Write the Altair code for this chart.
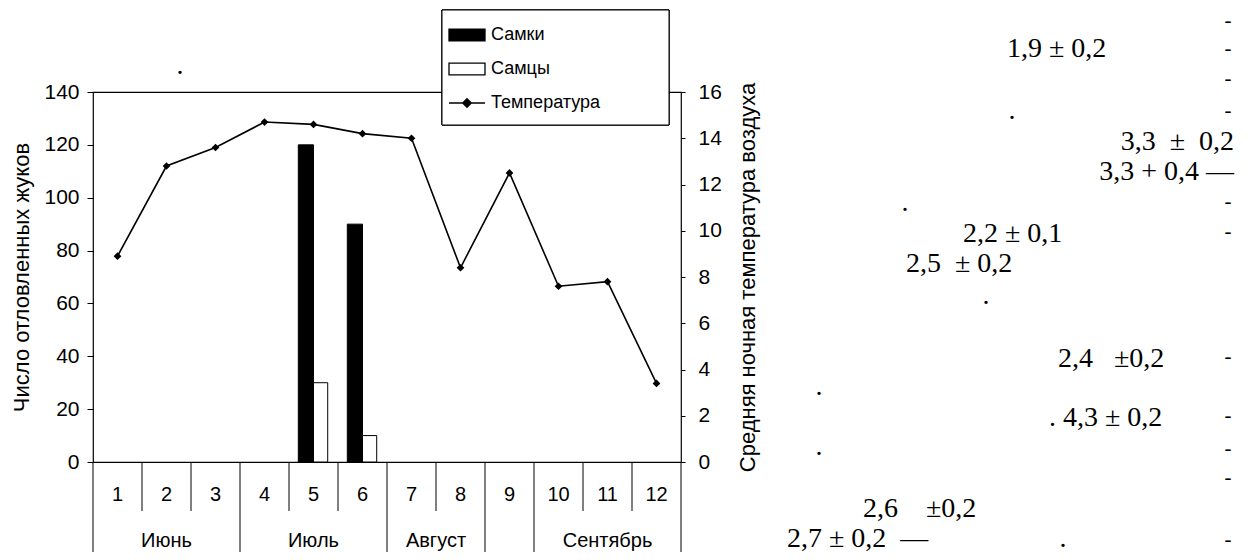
import altair as alt
import pandas as pd

# ---------------- data ----------------
PERIODS = list(range(1, 13))
FEMALES = [0, 0, 0, 0, 120, 90, 0, 0, 0, 0, 0, 0]
MALES = [0, 0, 0, 0, 30, 10, 0, 0, 0, 0, 0, 0]
TEMPERATURE = [8.9, 12.8, 13.6, 14.7, 14.6, 14.2, 14.0, 8.4, 12.5, 7.6, 7.8, 3.4]
SERIES = ["Самки", "Самцы", "Температура"]
MONTHS = ["Июнь", "Июль", "Август", "Сентябрь"]
MONTH_FIRST = [1, 4, 7, 10]
MONTH_LAST = [3, 6, 8, 12]
COUNT_TICKS = [0, 20, 40, 60, 80, 100, 120, 140]
TEMP_TICKS = [0, 2, 4, 6, 8, 10, 12, 14, 16]
LEFT_TITLE = "Число отловленных жуков"
RIGHT_TITLE = "Средняя ночная температура воздуха"

# text fragments of the scanned page to the right of the chart
NOTES_LEFT = ["1,9 ± 0,2", "2,2 ± 0,1", "2,5\u00a0 ± 0,2", "2,4\u00a0\u00a0 ±0,2",
              ". 4,3 ± 0,2", "2,6\u00a0\u00a0\u00a0 ±0,2", "2,7 ± 0,2\u00a0 —"]
NOTES_RIGHT = ["3,3\u00a0 ±\u00a0 0,2", "3,3 + 0,4 —"]

# ---------------- layout (page pixels) ----------------
PLOT_LEFT, PLOT_TOP, PLOT_W, PLOT_H = 93, 92, 588, 370
LEGEND_BOX = (442, 10, 669, 125)  # left, top, right, bottom
NOTES_LEFT_POS = [(1007, 57), (963, 242), (906, 272), (1058, 367), (1049, 426), (863, 517), (787, 547)]
NOTES_RIGHT_POS = [(1234, 150), (1234, 180)]
DASH_X = 1228
DASH_Y = [22, 50, 80, 112, 203, 233, 358, 417, 450, 479, 541]
DOTS_POS = [(1012, 117), (905, 209), (986, 302), (819, 393), (819, 453), (1063, 545), (180, 72)]

SANS = "Liberation Sans"
SERIF = "Liberation Serif"
NOTE_SIZE = 28
DASH_SIZE = 21

# ---------------- tables ----------------
bar_rows = []
for p, f, m in zip(PERIODS, FEMALES, MALES):
    if f:
        bar_rows.append({"period": p, "series": SERIES[0], "count": f})
    if m:
        bar_rows.append({"period": p, "series": SERIES[1], "count": m})
bar_df = pd.DataFrame(bar_rows)
temp_df = pd.DataFrame({"period": PERIODS, "temp": TEMPERATURE})
period_df = pd.DataFrame({"period": PERIODS})
legend_df = pd.DataFrame({"series": SERIES})

edges = [p - 0.5 for p in PERIODS] + [PERIODS[-1] + 0.5]
group_edges = sorted({a - 0.5 for a in MONTH_FIRST} | {b + 0.5 for b in MONTH_LAST})
short_df = pd.DataFrame({"edge": [e for e in edges if e not in group_edges]})
long_df = pd.DataFrame({"edge": group_edges})
month_df = pd.DataFrame({"month": MONTHS,
                         "center": [(a + b) / 2 for a, b in zip(MONTH_FIRST, MONTH_LAST)]})


def notes_frame(texts, xs, ys):
    return pd.DataFrame({"note": texts,
                         "px": [x - PLOT_LEFT for x in xs],
                         "py": [y - PLOT_TOP for y in ys]})


notes_l = notes_frame(NOTES_LEFT, [p[0] for p in NOTES_LEFT_POS], [p[1] for p in NOTES_LEFT_POS])
notes_r = notes_frame(NOTES_RIGHT, [p[0] for p in NOTES_RIGHT_POS], [p[1] for p in NOTES_RIGHT_POS])
dash_df = notes_frame(["-"] * len(DASH_Y), [DASH_X] * len(DASH_Y), [y + 5 for y in DASH_Y])
dot_df = notes_frame(["."] * len(DOTS_POS), [p[0] for p in DOTS_POS], [p[1] + 2 for p in DOTS_POS])

# ---------------- scales ----------------
x_scale = alt.Scale(domain=[0.5, 12.5], nice=False, zero=False)
count_scale = alt.Scale(domain=[0, 140], nice=False)
temp_scale = alt.Scale(domain=[0, 16], nice=False)
RECT_PATH = "M-1,-0.33H1V0.33H-1Z"
LINE_PATH = "M-1,0H1M0,-0.24L0.24,0L0,0.24L-0.24,0Z"
fill_scale = alt.Scale(domain=SERIES, range=["black", "white", "black"])
stroke_scale = alt.Scale(domain=SERIES, range=["black", "black", "black"])
shape_scale = alt.Scale(domain=SERIES, range=[RECT_PATH, RECT_PATH, LINE_PATH])

legend = alt.Legend(title=None, orient="none",
                    legendX=LEGEND_BOX[0] - PLOT_LEFT, legendY=LEGEND_BOX[1] - PLOT_TOP,
                    padding=6, symbolSize=1296, symbolOpacity=1, symbolStrokeWidth=1.3,
                    labelFont=SANS, labelFontSize=18, labelColor="black",
                    labelOffset=5, rowPadding=6)

# ---------------- layers ----------------
# invisible layer that only carries the legend (first, so its legend settings win the merge)
legend_layer = alt.Chart(legend_df).mark_point(opacity=0, filled=True, strokeWidth=1.3).encode(
    x=alt.value(0), y=alt.value(0),
    fill=alt.Fill("series:N", scale=fill_scale, legend=legend),
    stroke=alt.Stroke("series:N", scale=stroke_scale, legend=legend),
    shape=alt.Shape("series:N", scale=shape_scale, legend=legend),
)

bars = alt.Chart(bar_df).transform_calculate(
    x0=f"datum.series === '{SERIES[0]}' ? datum.period - 0.31 : datum.period",
    x1=f"datum.series === '{SERIES[0]}' ? datum.period : datum.period + 0.29",
).mark_bar(stroke="black", strokeWidth=1).encode(
    x=alt.X("x0:Q", scale=x_scale, axis=None),
    x2="x1:Q",
    y=alt.Y("count:Q", scale=count_scale,
            axis=alt.Axis(orient="left", values=COUNT_TICKS, grid=False, domain=False,
                          tickSize=6, tickColor="black", labelPadding=8,
                          labelFontSize=21, labelFont=SANS, labelColor="black",
                          title=LEFT_TITLE, titleFont=SANS, titleFontSize=22,
                          titleFontWeight="normal", titleColor="black",
                          titleAngle=270, titleX=21 - PLOT_LEFT, titleY=PLOT_H / 2,
                          titleAlign="center", titleBaseline="middle")),
    y2=alt.datum(0),
    fill=alt.Fill("series:N", scale=fill_scale, legend=legend),
)

# white framed box behind the legend entries
legend_box = alt.Chart(legend_df).mark_rect(fill="white", stroke="black", strokeWidth=1).encode(
    x=alt.value(LEGEND_BOX[0] - PLOT_LEFT), x2=alt.value(LEGEND_BOX[2] - PLOT_LEFT),
    y=alt.value(LEGEND_BOX[1] - PLOT_TOP), y2=alt.value(LEGEND_BOX[3] - PLOT_TOP),
)

period_labels = alt.Chart(period_df).mark_text(font=SANS, fontSize=20, baseline="middle",
                                               color="black").encode(
    x=alt.X("period:Q", scale=x_scale, axis=None),
    y=alt.value(PLOT_H + 33), text="period:N")
short_sep = alt.Chart(short_df).mark_rule(color="black", strokeWidth=1).encode(
    x=alt.X("edge:Q", scale=x_scale, axis=None),
    y=alt.value(PLOT_H), y2=alt.value(PLOT_H + 49))
long_sep = alt.Chart(long_df).mark_rule(color="black", strokeWidth=1).encode(
    x=alt.X("edge:Q", scale=x_scale, axis=None),
    y=alt.value(PLOT_H), y2=alt.value(PLOT_H + 94))
months = alt.Chart(month_df).mark_text(font=SANS, fontSize=20, baseline="middle",
                                       color="black").encode(
    x=alt.X("center:Q", scale=x_scale, axis=None),
    y=alt.value(PLOT_H + 79), text="month:N")

line = alt.Chart(temp_df).mark_line(color="black", strokeWidth=1.6).encode(
    x=alt.X("period:Q", scale=x_scale, axis=None),
    y=alt.Y("temp:Q", scale=temp_scale,
            axis=alt.Axis(orient="right", values=TEMP_TICKS, grid=False, domain=False,
                          tickSize=4, tickColor="black", labelPadding=13,
                          labelFontSize=21, labelFont=SANS, labelColor="black",
                          title=RIGHT_TITLE, titleFont=SANS, titleFontSize=22,
                          titleFontWeight="normal", titleColor="black",
                          titleAngle=270, titleX=747 - PLOT_LEFT - PLOT_W, titleY=PLOT_H / 2,
                          titleAlign="center", titleBaseline="middle")),
)
points = alt.Chart(temp_df).mark_point(shape="diamond", filled=True, color="black",
                                       size=60, opacity=1).encode(
    x=alt.X("period:Q", scale=x_scale, axis=None),
    y=alt.Y("temp:Q", scale=temp_scale, axis=None),
)


def note_layer(df, align, size):
    return alt.Chart(df).mark_text(align=align, baseline="alphabetic", font=SERIF,
                                   fontSize=size, color="black").encode(
        x=alt.X("px:Q", scale=None, axis=None),
        y=alt.Y("py:Q", scale=None, axis=None),
        text="note:N")


chart = alt.layer(
    legend_layer, bars, line, points, legend_box, short_sep, long_sep, period_labels, months,
    note_layer(notes_l, "left", NOTE_SIZE), note_layer(notes_r, "right", NOTE_SIZE),
    note_layer(dash_df, "center", DASH_SIZE), note_layer(dot_df, "center", NOTE_SIZE),
).resolve_scale(y="independent").properties(
    width=PLOT_W, height=PLOT_H,
    padding={"left": PLOT_LEFT - 8, "top": PLOT_TOP - 8, "right": 560, "bottom": 90},
    autosize=alt.AutoSizeParams(type="none"),
    background="white",
).configure_view(stroke="black", strokeWidth=1.2)

chart.save("out.html", embed_options={"renderer": "svg", "actions": False})
